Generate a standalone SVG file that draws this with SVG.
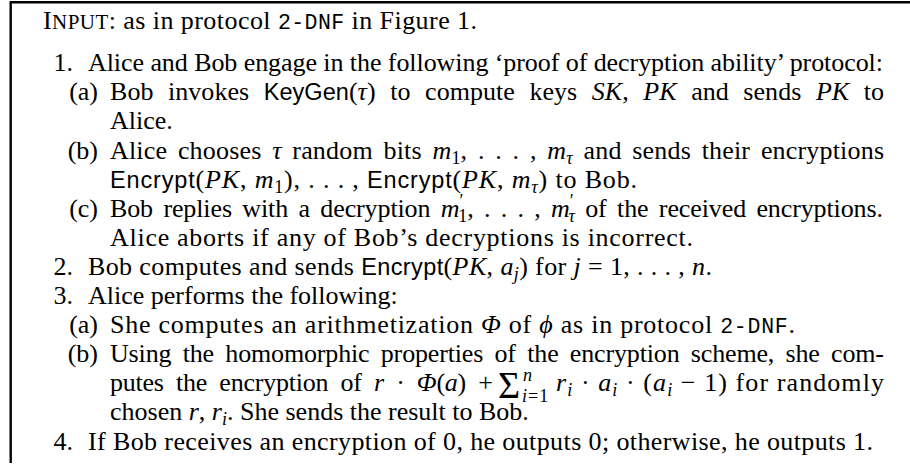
<svg xmlns="http://www.w3.org/2000/svg" width="910" height="467" viewBox="0 0 910 467">
<style>
text{font-family:"Liberation Serif","Times New Roman",serif;font-size:26px;fill:#000}
.i{font-style:italic}
.sf{font-family:"Liberation Sans",Arial,sans-serif;font-size:23.5px;font-style:normal}
.tt{font-family:"Liberation Mono","Courier New",monospace;font-size:21.5px}
.s{font-size:18px}
.sc{font-size:21px}
.big{font-size:38px}
.frame{fill:none;stroke:#000;stroke-width:2.4}
</style>
<rect width="910" height="467" fill="#fff"/>
<path class="frame" d="M10.7,463 V2.2 H910"/>
<g id="input">
<text x="43" y="29" textLength="434" lengthAdjust="spacing">I<tspan class="sc">NPUT</tspan>: as in protocol <tspan class="tt">2-DNF</tspan> in Figure 1.</text>
</g>
<g id="item1">
<text x="73" y="71" text-anchor="end">1.</text>
<text x="88" y="71" textLength="795" lengthAdjust="spacing">Alice and Bob engage in the following ‘proof of decryption ability’ protocol:</text>
<g id="item1a">
<text x="98" y="100" text-anchor="end">(a)</text>
<text x="110" y="100" textLength="774" lengthAdjust="spacing" word-spacing="8">Bob invokes <tspan class="sf">KeyGen</tspan>(<tspan class="i">τ</tspan>) to compute keys <tspan class="i">SK</tspan>, <tspan class="i">PK</tspan> and sends <tspan class="i">PK</tspan> to</text>
<text x="110" y="129">Alice.</text>
</g>
<g id="item1b">
<text x="98" y="159" text-anchor="end">(b)</text>
<text x="110" y="159" textLength="774" lengthAdjust="spacing" word-spacing="4">Alice chooses <tspan class="i">τ</tspan> random bits <tspan class="i">m</tspan><tspan class="s" dy="5">1</tspan><tspan dy="-5">, . . . , </tspan><tspan class="i">m</tspan><tspan class="s i" dy="5">τ</tspan><tspan dy="-5"> and sends their encryptions</tspan></text>
<text x="110" y="188" textLength="527" lengthAdjust="spacing"><tspan class="sf">Encrypt</tspan>(<tspan class="i">PK</tspan>, <tspan class="i">m</tspan><tspan class="s" dy="5">1</tspan><tspan dy="-5">), . . . , </tspan><tspan class="sf">Encrypt</tspan>(<tspan class="i">PK</tspan>, <tspan class="i">m</tspan><tspan class="s i" dy="5">τ</tspan><tspan dy="-5">) to Bob.</tspan></text>
</g>
<g id="item1c">
<text x="98" y="217" text-anchor="end">(c)</text>
<text x="110" y="217" textLength="773" lengthAdjust="spacing" word-spacing="4">Bob replies with a decryption <tspan class="i">m</tspan><tspan class="s" dy="-10">′</tspan><tspan class="s" dx="-5" dy="15">1</tspan><tspan dy="-5">, . . . , </tspan><tspan class="i">m</tspan><tspan class="s" dy="-10">′</tspan><tspan class="s i" dx="-5" dy="15">τ</tspan><tspan dy="-5"> of the received encryptions.</tspan></text>
<text x="110" y="246" textLength="583" lengthAdjust="spacing">Alice aborts if any of Bob’s decryptions is incorrect.</text>
</g>
</g>
<g id="item2">
<text x="73" y="275" text-anchor="end">2.</text>
<text x="88" y="275" textLength="624" lengthAdjust="spacing">Bob computes and sends <tspan class="sf">Encrypt</tspan>(<tspan class="i">PK</tspan>, <tspan class="i">a</tspan><tspan class="s i" dy="5">j</tspan><tspan dy="-5">) for </tspan><tspan class="i">j</tspan> = 1, . . . , <tspan class="i">n</tspan>.</text>
</g>
<g id="item3">
<text x="73" y="304" text-anchor="end">3.</text>
<text x="88" y="304">Alice performs the following:</text>
<g id="item3a">
<text x="98" y="333" text-anchor="end">(a)</text>
<text x="110" y="333" textLength="685" lengthAdjust="spacing">She computes an arithmetization <tspan class="i">Φ</tspan> of <tspan class="i">ϕ</tspan> as in protocol <tspan class="tt">2-DNF</tspan>.</text>
</g>
<g id="item3b">
<text x="98" y="362" text-anchor="end">(b)</text>
<text x="110" y="362" textLength="774" lengthAdjust="spacing" word-spacing="5">Using the homomorphic properties of the encryption scheme, she com-</text>
<text x="110" y="391" textLength="383" lengthAdjust="spacing" word-spacing="6">putes the encryption of <tspan class="i">r</tspan> · <tspan class="i">Φ</tspan>(<tspan class="i">a</tspan>) +</text>
<text x="498" y="398" class="big">Σ</text>
<text x="523" y="381" class="s i">n</text>
<text x="522" y="402" class="s" letter-spacing="1"><tspan class="i">i</tspan>=1</text>
<text x="556" y="391" textLength="328" lengthAdjust="spacing"><tspan class="i">r</tspan><tspan class="s i" dy="5">i</tspan><tspan dy="-5"> · </tspan><tspan class="i">a</tspan><tspan class="s i" dy="5">i</tspan><tspan dy="-5"> · (</tspan><tspan class="i">a</tspan><tspan class="s i" dy="5">i</tspan><tspan dy="-5"> − 1) for randomly</tspan></text>
<text x="110" y="420">chosen <tspan class="i">r</tspan>, <tspan class="i">r</tspan><tspan class="s i" dy="5">i</tspan><tspan dy="-5">. She sends the result to Bob.</tspan></text>
</g>
</g>
<g id="item4">
<text x="73" y="450" text-anchor="end">4.</text>
<text x="88" y="450" textLength="785" lengthAdjust="spacing">If Bob receives an encryption of 0, he outputs 0; otherwise, he outputs 1.</text>
</g>
</svg>
